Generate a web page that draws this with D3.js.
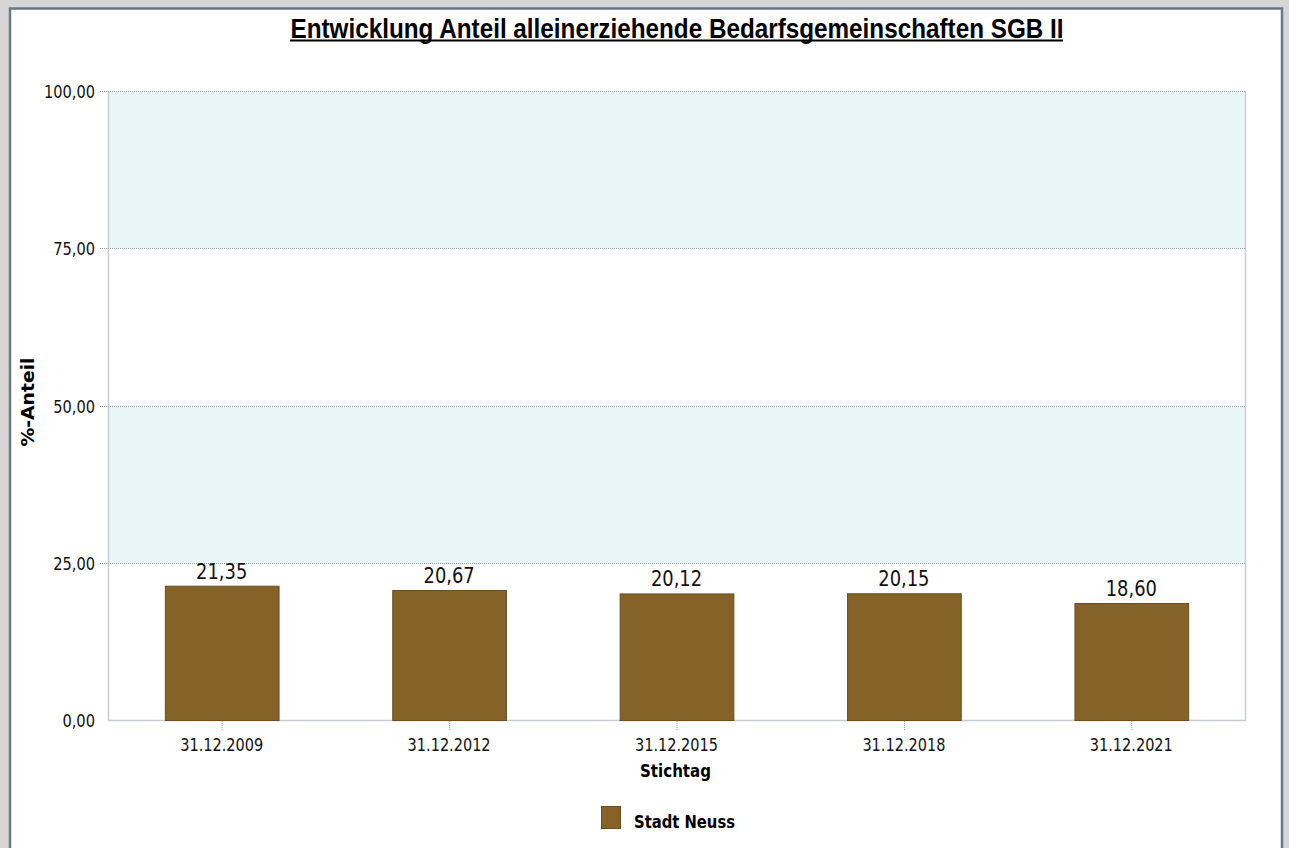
<!DOCTYPE html>
<html><head><meta charset="utf-8">
<script src="https://cdn.jsdelivr.net/npm/d3@7"></script>
<style>
html,body{margin:0;padding:0;background:#d6d6d6;}
svg{display:block;}
</style></head>
<body>
<svg id="c" width="1289" height="848"></svg>
<script>
const categories = ["31.12.2009","31.12.2012","31.12.2015","31.12.2018","31.12.2021"];
const values = [21.35, 20.67, 20.12, 20.15, 18.60];
const yTicks = [0, 25, 50, 75, 100];
const seriesName = "Stadt Neuss";
const title = "Entwicklung Anteil alleinerziehende Bedarfsgemeinschaften SGB II";
const yLabel = "%-Anteil";
const xLabel = "Stichtag";

const svg = d3.select("#c");
const fmt = v => v.toFixed(2).replace(".", ",");
const FONT = "'DejaVu Sans Condensed','DejaVu Sans',sans-serif";
// narrow text width: digit width d, punctuation width p
const tl = (s, d, p) => { let w=0; for (const ch of s) w += /[0-9]/.test(ch) ? d : p; return w; };

// frame
svg.append("rect").attr("x",10).attr("y",8.5).attr("width",1272).attr("height",850)
  .attr("fill","#fff").attr("stroke","#6b7987").attr("stroke-width",2.5);

const L=108, R=1245, T=91, B=720;
const x = d3.scaleBand().domain(categories).range([L,R]).paddingInner(0.5).paddingOuter(0.25);
const y = d3.scaleLinear().domain([0,100]).range([B,T]);

// bands
const bands = [[25,50],[75,100]];
svg.append("g").selectAll("rect").data(bands).join("rect")
  .attr("x",L).attr("width",R-L)
  .attr("y",d=>y(d[1])).attr("height",d=>y(d[0])-y(d[1]))
  .attr("fill","#e8f6f7");

// plot borders
svg.append("line").attr("x1",L+0.5).attr("x2",L+0.5).attr("y1",T).attr("y2",B).attr("stroke","#c9cdd2").attr("stroke-width",1.5);
svg.append("line").attr("x1",R+0.5).attr("x2",R+0.5).attr("y1",T).attr("y2",B).attr("stroke","#c9cdd2").attr("stroke-width",1.5);
svg.append("line").attr("x1",L).attr("x2",R+1).attr("y1",B+0.5).attr("y2",B+0.5).attr("stroke","#c9cdd2").attr("stroke-width",1.5);

// gridlines
svg.append("g").selectAll("line").data(yTicks.filter(d=>d>0)).join("line")
  .attr("x1",100).attr("x2",R).attr("y1",d=>Math.round(y(d))+0.5).attr("y2",d=>Math.round(y(d))+0.5)
  .attr("stroke","#9a9fa5").attr("stroke-width",1).attr("stroke-dasharray","1,1");

// y axis labels
const yAxis = d3.axisLeft(y).tickValues(yTicks).tickFormat(fmt).tickSize(0).tickPadding(0);
const gy = svg.append("g").attr("transform",`translate(95,0)`).call(yAxis);
gy.select(".domain").remove();
gy.selectAll("text").attr("font-family",FONT)
  .attr("font-size",18.5).attr("fill","#111").attr("dy","0.36em")
  .attr("textLength",d=>tl(fmt(d),9.2,5)).attr("lengthAdjust","spacingAndGlyphs");

// x axis
const xAxis = d3.axisBottom(x).tickSize(0).tickPadding(0);
const gx = svg.append("g").attr("transform",`translate(0,${B})`).call(xAxis);
gx.select(".domain").remove();
gx.selectAll("text").attr("font-family",FONT)
  .attr("font-size",18.5).attr("fill","#111").attr("y",31).attr("dy",0)
  .attr("textLength",d=>tl(d,9.2,4.7)).attr("lengthAdjust","spacingAndGlyphs");
gx.selectAll(".tick").append("line").attr("x1",0.5).attr("x2",0.5).attr("y1",1).attr("y2",10)
  .attr("stroke","#999").attr("stroke-dasharray","1,1");

// bars
const data = categories.map((c,i)=>({c, v:values[i]}));
svg.append("g").selectAll("rect").data(data).join("rect")
  .attr("x",d=>x(d.c)+0.5).attr("width",x.bandwidth())
  .attr("y",d=>y(d.v)+0.5).attr("height",d=>B-y(d.v))
  .attr("fill","#856228").attr("stroke","#6b4e1c").attr("stroke-width",1);

// value labels
svg.append("g").selectAll("text").data(data).join("text")
  .attr("x",d=>x(d.c)+x.bandwidth()/2).attr("y",d=>y(d.v)-7)
  .attr("text-anchor","middle")
  .attr("font-family",FONT)
  .attr("font-size",21.5).attr("fill","#111")
  .attr("textLength",d=>tl(fmt(d.v),11.3,6)).attr("lengthAdjust","spacingAndGlyphs")
  .text(d=>fmt(d.v));

// title
svg.append("text").attr("x",677).attr("y",38).attr("text-anchor","middle")
  .attr("font-family","'Liberation Sans Narrow','Liberation Sans',Arial,sans-serif")
  .attr("font-weight","bold").attr("font-size",27.5).attr("fill","#000")
  .attr("textLength",773).attr("lengthAdjust","spacingAndGlyphs").text(title);
svg.append("rect").attr("x",290).attr("y",39.5).attr("width",773).attr("height",2).attr("fill","#000");

// y label
svg.append("text").attr("transform","translate(34,402) rotate(-90)").attr("text-anchor","middle")
  .attr("font-family",FONT).attr("font-weight","bold")
  .attr("font-size",17).attr("textLength",89).attr("lengthAdjust","spacingAndGlyphs").attr("fill","#000").text(yLabel);

// x label
svg.append("text").attr("x",675.5).attr("y",777).attr("text-anchor","middle")
  .attr("font-family",FONT).attr("font-weight","bold")
  .attr("font-size",17.5).attr("textLength",71).attr("lengthAdjust","spacingAndGlyphs").attr("fill","#000").text(xLabel);

// legend
svg.append("rect").attr("x",601.5).attr("y",806.5).attr("width",19).attr("height",22)
  .attr("fill","#856228").attr("stroke","#6b4e1c");
svg.append("text").attr("x",634).attr("y",828)
  .attr("font-family",FONT).attr("font-weight","bold")
  .attr("font-size",18.5).attr("textLength",101).attr("lengthAdjust","spacingAndGlyphs").attr("fill","#000").text(seriesName);
</script>
</body></html>
